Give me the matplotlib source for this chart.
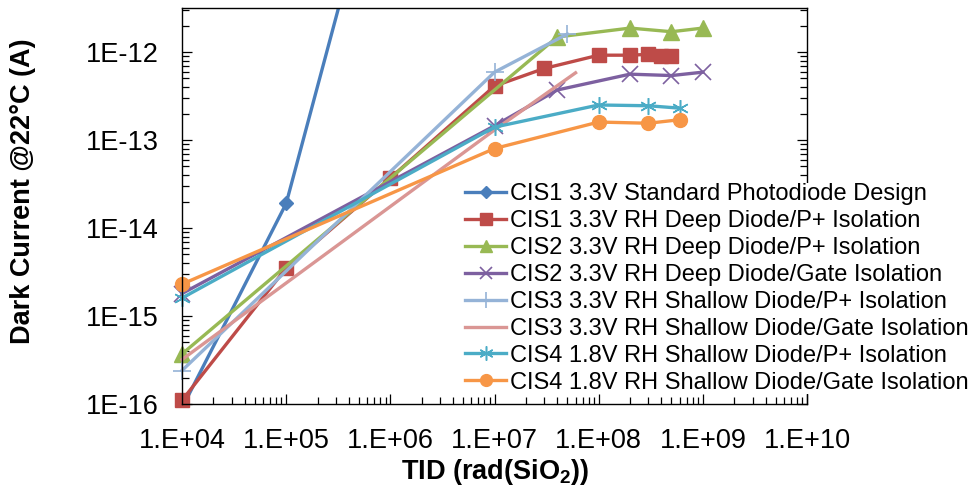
import matplotlib
matplotlib.use('Agg')
import matplotlib.pyplot as plt
from matplotlib.ticker import LogLocator, FixedLocator, FuncFormatter, NullFormatter
import numpy as np

plt.rcParams['font.family'] = ['Liberation Sans', 'DejaVu Sans']
plt.rcParams['mathtext.fontset'] = 'custom'
plt.rcParams['mathtext.rm'] = 'Liberation Sans'
plt.rcParams['mathtext.bf'] = 'Liberation Sans:bold'

# dose points (rad(SiO2)) and dark current (A)
cis1_std_x = [1e4, 1e5, 1e6]
cis1_std_y = [9e-17, 1.9e-14, 5e-10]

cis1_p_x = [1e4, 1e5, 1e6, 1e7, 3e7, 1e8, 2e8, 3e8, 4e8, 5e8]
cis1_p_y = [1.1e-16, 3.5e-15, 3.7e-14, 4.1e-13, 6.5e-13, 9.2e-13, 9.2e-13, 9.4e-13, 9.0e-13, 9.0e-13]

cis2_p_x = [1e4, 4e7, 2e8, 5e8, 1e9]
cis2_p_y = [3.7e-16, 1.48e-12, 1.87e-12, 1.7e-12, 1.87e-12]

cis2_gate_x = [1e4, 1e7, 4e7, 2e8, 5e8, 1e9]
cis2_gate_y = [1.8e-15, 1.45e-13, 3.7e-13, 5.6e-13, 5.4e-13, 5.9e-13]

cis3_p_x = [1e4, 1e7, 5e7]
cis3_p_y = [2.4e-16, 5.9e-13, 1.6e-12]

cis3_gate_x = [1e4, 1e7, 6e7]
cis3_gate_y = [3.2e-16, 1.3e-13, 5.8e-13]

cis4_p_x = [1e4, 1e7, 1e8, 3e8, 6e8]
cis4_p_y = [1.6e-15, 1.4e-13, 2.5e-13, 2.45e-13, 2.3e-13]

cis4_gate_x = [1e4, 1e7, 1e8, 3e8, 6e8]
cis4_gate_y = [2.3e-15, 8.0e-14, 1.6e-13, 1.55e-13, 1.7e-13]

x_decades = [1e4, 1e5, 1e6, 1e7, 1e8, 1e9, 1e10]
y_decades = [1e-16, 1e-15, 1e-14, 1e-13, 1e-12]

labels = ["CIS1 3.3V Standard Photodiode Design",
          "CIS1 3.3V RH Deep Diode/P+ Isolation",
          "CIS2 3.3V RH Deep Diode/P+ Isolation",
          "CIS2 3.3V RH Deep Diode/Gate Isolation",
          "CIS3 3.3V RH Shallow Diode/P+ Isolation",
          "CIS3 3.3V RH Shallow Diode/Gate Isolation",
          "CIS4 1.8V RH Shallow Diode/P+ Isolation",
          "CIS4 1.8V RH Shallow Diode/Gate Isolation"]

fig = plt.figure(figsize=(9.7, 4.9), dpi=100)
ax = fig.add_axes([182/970, 1-404/490, (807-182)/970, (404-8)/490])

lw = 2.4
ax.plot(cis1_std_x, cis1_std_y, '-D', color='#4A7EBB', lw=lw, ms=7, label=labels[0])
ax.plot(cis1_p_x, cis1_p_y, '-s', color='#BE4B48', lw=lw, ms=10, label=labels[1], clip_on=False)
ax.plot(cis2_p_x, cis2_p_y, '-^', color='#98B954', lw=lw, ms=11, label=labels[2], clip_on=False)
ax.plot(cis2_gate_x, cis2_gate_y, '-x', color='#7D60A0', lw=lw, ms=11, mew=1.2, label=labels[3], clip_on=False)
ax.plot(cis3_p_x, cis3_p_y, '-+', color='#95B3D7', lw=lw, ms=13, mew=1.2, label=labels[4], clip_on=False)
ax.plot(cis3_gate_x, cis3_gate_y, '-', color='#DA9694', lw=lw, label=labels[5], clip_on=False)
ax.plot(cis4_p_x, cis4_p_y, '-', marker=(6, 2, 0), color='#4BACC6', lw=lw, ms=12, mew=1.1,
        label=labels[6], clip_on=False)
ax.plot(cis4_gate_x, cis4_gate_y, '-o', color='#F79646', lw=lw, ms=10, label=labels[7], clip_on=False)

ax.set_xscale('log')
ax.set_yscale('log')
ax.set_xlim(1e4, 1e10)
ax.set_ylim(1e-16, 10**-11.5)

ax.xaxis.set_major_locator(FixedLocator(x_decades))
ax.xaxis.set_minor_locator(LogLocator(base=10, subs=np.arange(2, 10), numticks=20))
ax.yaxis.set_major_locator(FixedLocator(y_decades))
ax.yaxis.set_minor_locator(LogLocator(base=10, subs=np.arange(2, 10), numticks=20))
ax.xaxis.set_major_formatter(FuncFormatter(lambda v, p: "1.E+%02d" % round(np.log10(v))))
ax.yaxis.set_major_formatter(FuncFormatter(lambda v, p: "1E%d" % round(np.log10(v))))
ax.xaxis.set_minor_formatter(NullFormatter())
ax.yaxis.set_minor_formatter(NullFormatter())

ax.tick_params(which='both', direction='in', right=True, top=False, colors='black',
               labelsize=19.5, width=0.9)
ax.tick_params(which='major', length=7)
ax.tick_params(which='minor', length=5)
ax.tick_params(axis='y', pad=17)
ax.tick_params(axis='x', pad=17)
for s in ax.spines.values():
    s.set_linewidth(1.0)

leg = ax.legend(loc='upper left', bbox_to_anchor=(465/970, 1-183/490), bbox_transform=fig.transFigure,
                fontsize=17, frameon=True, fancybox=False, borderpad=0.0, borderaxespad=0,
                handlelength=1.75, handletextpad=0.15, labelspacing=0.21, markerscale=0.85)
leg.get_frame().set_edgecolor('none')
leg.get_frame().set_facecolor('white')
leg.get_frame().set_alpha(1)

fig.text(23/970, 1-191/490, "Dark Current @22°C (A)", rotation=90, ha='center', va='center',
         fontsize=19.5, fontweight='bold')
fig.text(495/970, 1-472/490, r"TID (rad(SiO$_\mathbf{2}$))", ha='center', va='center',
         fontsize=19.5, fontweight='bold')

plt.savefig('out.png', dpi=100)
